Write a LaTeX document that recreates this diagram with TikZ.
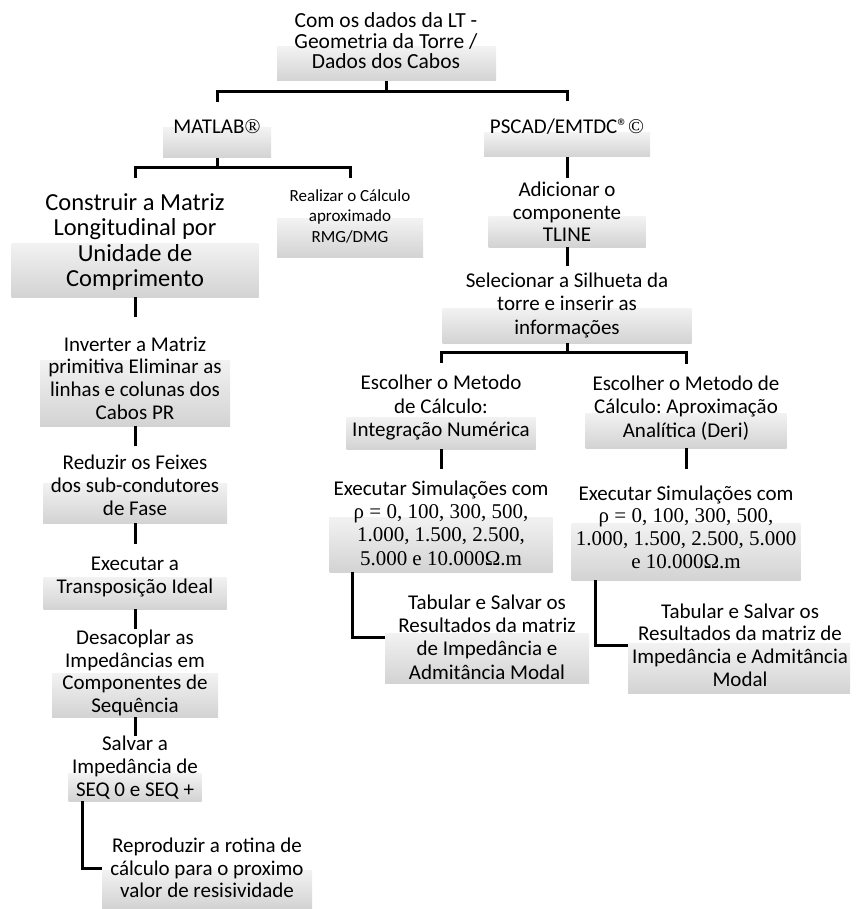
\documentclass[tikz,border=0pt]{standalone}
\usepackage{fontspec}
\setmainfont{Carlito}
\newfontfamily\tnr{Liberation Serif}
\usepackage{tikz}
\usetikzlibrary{positioning}
\definecolor{ShadeTop}{HTML}{F2F2F2}
\definecolor{ShadeBot}{HTML}{D3D3D3}
\frenchspacing

\begin{document}
\begin{tikzpicture}[
    x=1pt, y=1pt,
    txt/.style={align=center, inner sep=0pt, font=\fontsize{21}{23}\selectfont},
    gbox/.style={draw=none, inner sep=0pt, top color=ShadeTop, bottom color=ShadeBot},
    conn/.style={line width=3pt, black}
  ]
    \useasboundingbox (0,0) rectangle (856,-909);

    \node[gbox, minimum width=219pt, minimum height=34pt] (top-g) at (386.5,-64) {};
    \node[gbox, minimum width=108pt, minimum height=30pt] (matlab-g) at (217,-143) {};
    \node[gbox, minimum width=166pt, minimum height=24pt] (pscad-g) at (567,-145) {};
    \node[gbox, minimum width=247pt, minimum height=54pt] (constr-g) at (135,-270) {};
    \node[gbox, minimum width=146pt, minimum height=38pt] (realiz-g) at (350,-238) {};
    \node[gbox, minimum width=190pt, minimum height=66pt] (invert-g) at (135,-393) {};
    \node[gbox, minimum width=184pt, minimum height=40pt] (reduz-g) at (135,-503) {};
    \node[gbox, minimum width=183pt, minimum height=32pt] (transp-g) at (135,-593) {};
    \node[gbox, minimum width=166pt, minimum height=44pt] (desac-g) at (135,-695) {};
    \node[gbox, minimum width=133pt, minimum height=28pt] (salvar-g) at (135,-787) {};
    \node[gbox, minimum width=210pt, minimum height=38pt] (repro-g) at (207,-889) {};
    \node[gbox, minimum width=157pt, minimum height=30pt] (adic-g) at (567,-232) {};
    \node[gbox, minimum width=249pt, minimum height=35pt] (selec-g) at (567,-325.5) {};
    \node[gbox, minimum width=189pt, minimum height=32pt] (escL-g) at (441,-433) {};
    \node[gbox, minimum width=201pt, minimum height=35pt] (escR-g) at (686,-430.5) {};
    \node[gbox, minimum width=223pt, minimum height=55pt] (simL-g) at (441,-544.5) {};
    \node[gbox, minimum width=229pt, minimum height=57pt] (simR-g) at (686,-551.5) {};
    \node[gbox, minimum width=204pt, minimum height=50pt] (tabL-g) at (487,-658) {};
    \node[gbox, minimum width=222pt, minimum height=50pt] (tabR-g) at (739,-668) {};

    \node[txt, font=\fontsize{21.5}{20.5}\selectfont] (top) at (386,-41) {Com os dados da LT -\\Geometria da Torre /\\Dados dos Cabos};
    \node[txt] (matlab) at (217,-127) {MATLAB{\tnr ®}};
    \node[txt] (pscad) at (567,-127) {PSCAD/EMTDC®{\tnr ©}};
    \node[txt, font=\fontsize{24.5}{25.3}\selectfont] (constr) at (135,-242) {Construir a Matriz\\Longitudinal por\\Unidade de\\Comprimento};
    \node[txt, font=\fontsize{17}{20.5}\selectfont] (realiz) at (350,-216) {Realizar o Cálculo\\aproximado\\RMG/DMG};
    \node[txt, font=\fontsize{21}{22.7}\selectfont] (invert) at (135,-378) {Inverter a Matriz\\primitiva Eliminar as\\linhas e colunas dos\\Cabos PR};
    \node[txt] (reduz) at (135,-485) {Reduzir os Feixes\\dos sub-condutores\\de Fase};
    \node[txt] (transp) at (135,-577) {Executar a\\Transposição Ideal};
    \node[txt, font=\fontsize{21}{22.7}\selectfont] (desac) at (135,-673) {Desacoplar as\\Impedâncias em\\Componentes de\\Sequência};
    \node[txt] (salvar) at (135,-768) {Salvar a\\Impedância de\\SEQ 0 e SEQ +};
    \node[txt, font=\fontsize{21}{22.5}\selectfont] (repro) at (207,-868) {Reproduzir a rotina de\\cálculo para o proximo\\valor de resisividade};
    \node[txt, font=\fontsize{21}{22.5}\selectfont] (adic) at (567,-212) {Adicionar o\\componente\\TLINE};
    \node[txt, font=\fontsize{21}{23.5}\selectfont] (selec) at (567,-305) {Selecionar a Silhueta da\\torre e inserir as\\informações};
    \node[txt, font=\fontsize{21}{23.5}\selectfont] (escL) at (441,-408) {Escolher o Metodo\\de Cálculo:\\Integração Numérica};
    \node[txt, font=\fontsize{21}{23.5}\selectfont] (escR) at (686,-408) {Escolher o Metodo de\\Cálculo: Aproximação\\Analítica (Deri)};
    \node[txt, font=\fontsize{21}{23.3}\selectfont] (simL) at (441,-523) {Executar Simulações com\\{\tnr ρ = 0, 100, 300, 500,}\\{\tnr 1.000, 1.500, 2.500,}\\{\tnr 5.000 e 10.000Ω.m}};
    \node[txt, font=\fontsize{21}{22.7}\selectfont] (simR) at (686,-527) {Executar Simulações com\\{\tnr ρ = 0, 100, 300, 500,}\\{\tnr 1.000, 1.500, 2.500, 5.000}\\{\tnr e 10.000Ω.m}};
    \node[txt, font=\fontsize{21}{23.3}\selectfont] (tabL) at (487,-637) {Tabular e Salvar os\\Resultados da matriz\\de Impedância e\\Admitância Modal};
    \node[txt, font=\fontsize{21}{22.7}\selectfont] (tabR) at (740,-645) {Tabular e Salvar os\\Resultados da matriz de\\Impedância e Admitância\\Modal};

    \draw[conn] (top-g.south) -- ++(0,-10) -| ([yshift=18pt]matlab.north);
    \draw[conn] (top-g.south) -- ++(0,-10) -| ([yshift=18pt]pscad.north);
    \draw[conn] (matlab-g.south) -- ++(0,-9) -| ([yshift=15.5pt]constr.north);
    \draw[conn] (matlab-g.south) -- ++(0,-9) -| ([yshift=11.5pt]realiz.north);
    \draw[conn] (pscad-g.south) -- ([yshift=4pt]adic.north);
    \draw[conn] (adic-g.south) -- ([yshift=6pt]selec.north);
    \draw[conn] (selec-g.south) -- ++(0,-9) -| ([yshift=12pt]escL.north);
    \draw[conn] (selec-g.south) -- ++(0,-9) -| ([yshift=12pt]escR.north);
    \draw[conn] (escL-g.south) -- ([yshift=11pt]simL.north);
    \draw[conn] (escR-g.south) -- ([yshift=16pt]simR.north);
    \draw[conn] ([xshift=23pt]simL-g.south west) |- (tabL-g.west |- tabL.west);
    \draw[conn] ([xshift=24pt]simR-g.south west) |- (tabR-g.west |- tabR.west);
    \draw[conn] (constr-g.south) -- ([yshift=19pt]invert.north);
    \draw[conn] (invert-g.south) -- ([yshift=8pt]reduz.north);
    \draw[conn] (reduz-g.south) -- ([yshift=13pt]transp.north);
    \draw[conn] (transp-g.south) -- ([yshift=1pt]desac.north);
    \draw[conn] (desac-g.south) -- (salvar.north);
    \draw[conn] ([xshift=14pt]salvar-g.south west) |- (repro-g.west |- repro.west);
  \end{tikzpicture}
\end{document}
